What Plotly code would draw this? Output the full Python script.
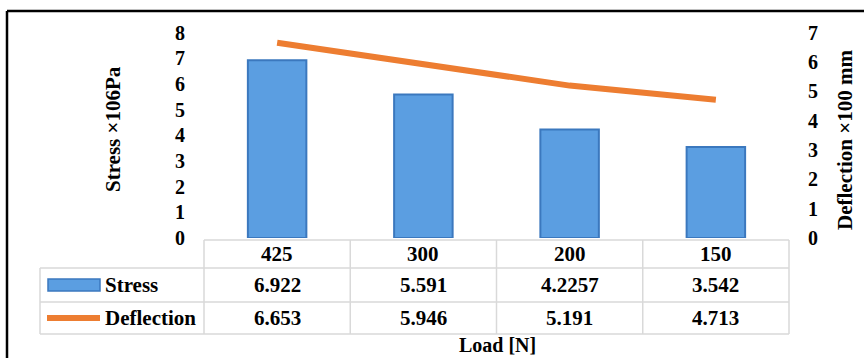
import plotly.graph_objects as go

# Load cases and measured responses
loads = ["425", "300", "200", "150"]
stress = [6.922, 5.591, 4.2257, 3.542]
deflection = [6.653, 5.946, 5.191, 4.713]
stress_labels = ["6.922", "5.591", "4.2257", "3.542"]
deflection_labels = ["6.653", "5.946", "5.191", "4.713"]
stress_ticks = [0, 1, 2, 3, 4, 5, 6, 7, 8]
deflection_ticks = [0, 1, 2, 3, 4, 5, 6, 7]

W, H = 864, 358
FONT = "Liberation Serif"
GRID = "#d9d9d9"
BLUE = "#5b9ee1"
BLUE_EDGE = "#3b78be"
ORANGE = "#ed7d31"


def px(x):
    return x / W


def py(y):
    return 1 - y / H


# plot-area geometry (pixels)
X0, X1 = 204, 789
Y_TOP, Y_BASE = 32.5, 238
col_w = (X1 - X0) / len(loads)

fig = go.Figure()
fig.add_trace(go.Bar(
    x=loads, y=stress, name="Stress", width=0.4,
    marker=dict(color=BLUE, line=dict(color=BLUE_EDGE, width=2)),
    showlegend=False, yaxis="y",
))
fig.add_trace(go.Scatter(
    x=loads, y=deflection, name="Deflection", mode="lines",
    line=dict(color=ORANGE, width=6, shape="linear"),
    showlegend=False, yaxis="y2",
))

shapes = []
# outer frame (top and left edges)
shapes.append(dict(type="line", xref="paper", yref="paper",
                   x0=px(7), x1=px(W + 2), y0=py(11), y1=py(11),
                   line=dict(color="black", width=2.5)))
shapes.append(dict(type="line", xref="paper", yref="paper",
                   x0=px(7), x1=px(7), y0=py(11), y1=py(H + 2),
                   line=dict(color="black", width=2.5)))

# data table grid
row_y = [240, 268, 302, 334]
TL = 40
shapes.append(dict(type="line", xref="paper", yref="paper",
                   x0=px(X0), x1=px(X1), y0=py(row_y[0]), y1=py(row_y[0]),
                   line=dict(color=GRID, width=1.5)))
for yy in row_y[1:]:
    shapes.append(dict(type="line", xref="paper", yref="paper",
                       x0=px(TL), x1=px(X1), y0=py(yy), y1=py(yy),
                       line=dict(color=GRID, width=1.5)))
shapes.append(dict(type="line", xref="paper", yref="paper",
                   x0=px(TL), x1=px(TL), y0=py(row_y[1]), y1=py(row_y[3]),
                   line=dict(color=GRID, width=1.5)))
for i in range(len(loads) + 1):
    xx = X0 + i * col_w
    shapes.append(dict(type="line", xref="paper", yref="paper",
                       x0=px(xx), x1=px(xx), y0=py(row_y[0]), y1=py(row_y[3]),
                       line=dict(color=GRID, width=1.5)))

# legend keys inside the table
shapes.append(dict(type="rect", xref="paper", yref="paper",
                   x0=px(48), x1=px(100), y0=py(291), y1=py(279),
                   fillcolor=BLUE, line=dict(color=BLUE_EDGE, width=1.5)))
shapes.append(dict(type="line", xref="paper", yref="paper",
                   x0=px(47), x1=px(100), y0=py(318), y1=py(318),
                   line=dict(color=ORANGE, width=6)))

ann = []
TXT = dict(family=FONT, size=21, color="black", weight="bold")
row_mid = [(row_y[k] + row_y[k + 1]) / 2 for k in range(3)]
for i, lab in enumerate(loads):
    cx = X0 + (i + 0.5) * col_w
    for k, txt in enumerate([lab, stress_labels[i], deflection_labels[i]]):
        ann.append(dict(x=px(cx), y=py(row_mid[k]), xref="paper", yref="paper",
                        text=txt, showarrow=False, font=TXT,
                        xanchor="center", yanchor="middle"))
ann.append(dict(x=px(103), y=py(row_mid[1]), xref="paper", yref="paper",
                text="Stress", showarrow=False, font=TXT,
                xanchor="left", yanchor="middle"))
ann.append(dict(x=px(103), y=py(row_mid[2]), xref="paper", yref="paper",
                text="Deflection", showarrow=False, font=TXT,
                xanchor="left", yanchor="middle"))
ann.append(dict(x=px(497), y=py(345), xref="paper", yref="paper",
                text="Load [N]", showarrow=False, borderpad=0,
                font=dict(family=FONT, size=20, color="black", weight="bold"),
                xanchor="center", yanchor="middle"))
# axis titles
ann.append(dict(x=px(113), y=py(129), xref="paper", yref="paper",
                text="Stress ×106Pa", showarrow=False, font=TXT, textangle=-90,
                xanchor="center", yanchor="middle"))
ann.append(dict(x=px(845), y=py(140), xref="paper", yref="paper",
                text="Deflection ×100 mm", showarrow=False, font=TXT, textangle=-90,
                xanchor="center", yanchor="middle"))

TICK = dict(family=FONT, size=20, color="black", weight="bold")
fig.update_layout(
    width=W, height=H,
    margin=dict(l=0, r=0, t=0, b=0, autoexpand=False),
    paper_bgcolor="white", plot_bgcolor="white",
    xaxis=dict(domain=[px(X0), px(X1)], range=[-0.5, 3.5], automargin=False,
               showticklabels=False, showgrid=False, zeroline=False,
               showline=False, ticks=""),
    yaxis=dict(domain=[py(Y_BASE), py(Y_TOP)], range=[0, 8], automargin=False,
               tickvals=stress_ticks, tickfont=TICK, showgrid=False,
               zeroline=False, showline=False, ticks="", ticklabelstandoff=18),
    yaxis2=dict(domain=[py(Y_BASE), py(Y_TOP)], range=[0, 7], overlaying="y",
                side="right", anchor="x", automargin=False,
                tickvals=deflection_ticks, tickfont=TICK, showgrid=False,
                zeroline=False, showline=False, ticks="", ticklabelstandoff=18),
    shapes=shapes, annotations=ann, bargap=0.6,
)

fig.write_html("out.html")
